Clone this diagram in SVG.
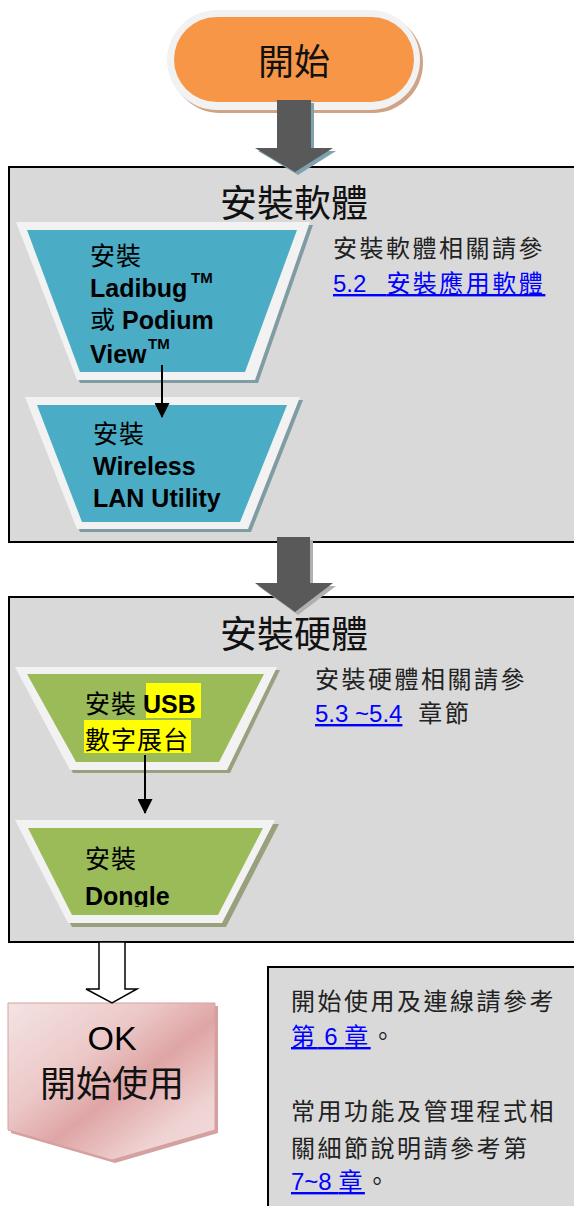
<svg xmlns="http://www.w3.org/2000/svg" width="574" height="1206" viewBox="0 0 574 1206">
<style>
.box{fill:#d9d9d9;stroke:#000;stroke-width:2}
.cjk{font-family:"Noto Sans CJK TC","Noto Sans",sans-serif;fill:#111}
.title{font-size:37px}
.note{font-size:24px;letter-spacing:2.5px;fill:#222;white-space:pre}
.link{fill:#0000ff;text-decoration:underline}
.lat{font-family:"Liberation Sans",Arial,sans-serif}
.nb{font-family:"Liberation Sans","Noto Sans CJK TC",sans-serif;font-weight:bold;font-size:25px;fill:#000}
.nc{font-family:"Noto Sans CJK TC",sans-serif;font-weight:normal;font-size:25px;letter-spacing:1px;fill:#000}
.tm{font-family:"Liberation Sans",sans-serif;font-weight:bold;font-size:15px;fill:#000}
.rim{fill:#f2f2f2}
.teal{fill:#4bacc6}
.green{fill:#9bbb59}
.tshadow{fill:#7f9ca3}
.gshadow{fill:#98a07e}
.thick{fill:#595959}
.conn{stroke:#000;stroke-width:2;fill:none}
</style>
<defs>
<marker id="ah" markerWidth="15" markerHeight="15" refX="14" refY="7.5" orient="auto" markerUnits="userSpaceOnUse" viewBox="0 0 15 15">
<path d="M0,0 L15,7.5 L0,15 z" fill="#000"/>
</marker>
<linearGradient id="pink" x1="0" y1="0" x2="1" y2="1">
<stop offset="0" stop-color="#f4e3e3"/>
<stop offset="0.35" stop-color="#ecc8c8"/>
<stop offset="0.55" stop-color="#dfa5a5"/>
<stop offset="0.8" stop-color="#efd3d3"/>
<stop offset="1" stop-color="#f2dcdc"/>
</linearGradient>
<clipPath id="dclip"><rect x="0" y="820" width="300" height="87"/></clipPath>
</defs>

<!-- containers -->
<g id="box-software">
<rect class="box" x="9" y="167" width="580" height="375"/>
<text class="cjk title" x="294" y="217" text-anchor="middle">安裝軟體</text>
<text class="cjk note" x="333" y="257">安裝軟體相關請參</text>
<text class="cjk note link" x="333" y="292"><tspan class="lat" letter-spacing="0">5.2   </tspan>安裝應用軟體</text>
</g>
<g id="box-hardware">
<rect class="box" x="9" y="597" width="580" height="345"/>
<text class="cjk title" x="294" y="648" text-anchor="middle">安裝硬體</text>
<text class="cjk note" x="315" y="688">安裝硬體相關請參</text>
<text class="cjk note" x="315" y="722"><tspan class="link lat" letter-spacing="0">5.3 ~5.4</tspan>  章節</text>
</g>
<g id="note-box">
<rect class="box" x="268" y="967" width="330" height="260"/>
<text class="cjk note" x="291" y="1010">開始使用及連線請參考</text>
<text class="cjk note" x="291" y="1045"><tspan class="link">第<tspan class="lat" letter-spacing="0"> 6 </tspan>章</tspan>。</text>
<text class="cjk note" x="291" y="1120">常用功能及管理程式相</text>
<text class="cjk note" x="291" y="1157">關細節說明請參考第</text>
<text class="cjk note" x="291" y="1190"><tspan class="link"><tspan class="lat" letter-spacing="0">7~8 </tspan>章</tspan>。</text>
</g>

<!-- start -->
<g id="start">
<rect x="170" y="13" width="253" height="100" rx="50" fill="#cfa385"/>
<rect x="167" y="10" width="253" height="100" rx="50" fill="#f2f2f2"/>
<rect x="174" y="17" width="240" height="85" rx="42.5" fill="#f79646"/>
<text class="cjk" x="294" y="75" font-size="36" text-anchor="middle">開始</text>
</g>

<!-- software steps -->
<g id="step-ladibug">
<polygon class="tshadow" points="19,225 313,225 258,383 80,383"/>
<polygon class="rim" points="16,222 310,222 255,380 77,380"/>
<polygon class="teal" points="27,230 297,230 245,372 80,372"/>
<text x="90" y="265" class="nc">安裝</text>
<text x="90" y="297" class="nb">Ladibug</text>
<text x="191" y="283" class="tm">TM</text>
<text x="90" y="329"><tspan class="nc">或</tspan><tspan class="nb" dx="6">Podium</tspan></text>
<text x="90" y="363" class="nb">View</text>
<text x="148" y="349" class="tm">TM</text>
</g>
<g id="step-wlan">
<polygon class="tshadow" points="28,400 303,400 251,532 80,532"/>
<polygon class="rim" points="25,397 300,397 248,529 77,529"/>
<polygon class="teal" points="37,405 287,405 240,522 82,522"/>
<text x="93" y="443" class="nc">安裝</text>
<text x="93" y="475" class="nb">Wireless</text>
<text x="93" y="507" class="nb">LAN Utility</text>
</g>

<!-- hardware steps -->
<g id="step-usb">
<polygon class="gshadow" points="18,670 280,670 230,773 73,773"/>
<polygon class="rim" points="15,667 277,667 227,770 70,770"/>
<polygon class="green" points="27,674 264,674 219,762 76,762"/>
<rect x="146" y="683" width="55" height="35" fill="#ffff00"/>
<rect x="84" y="720" width="107" height="33" fill="#ffff00"/>
<text x="85" y="713"><tspan class="nc">安裝</tspan><tspan class="nb" dx="6">USB</tspan></text>
<text x="85" y="749" class="nc" letter-spacing="0">數字展台</text>
</g>
<g id="step-dongle">
<polygon class="gshadow" points="19,824 279,824 226,927 72,927"/>
<polygon class="rim" points="15,820 275,820 222,923 68,923"/>
<polygon class="green" points="28,828 263,828 218,915 72,915"/>
<text x="85" y="868" class="nc">安裝</text>
<text x="85" y="905" class="nb" clip-path="url(#dclip)">Dongle</text>
</g>

<!-- finish -->
<g id="finish">
<polygon points="11,1006 218,1006 218,1133 115,1163 11,1133" fill="#c98a8a" opacity="0.8"/>
<polygon points="8,1003 215,1003 215,1130 112,1160 8,1130" fill="url(#pink)" stroke="#d9a0a0" stroke-width="1"/>
<text class="lat" x="112" y="1050" font-size="34" text-anchor="middle" fill="#000">OK</text>
<text class="cjk" x="112" y="1097" font-size="36" text-anchor="middle" fill="#000">開始使用</text>
</g>

<!-- connectors -->
<g id="connectors">
<polygon points="280,103 314,103 314,151 336,151 298,175 258,151 280,151" fill="#7fa3ad"/>
<polygon class="thick" points="277,100 311,100 311,148 333,148 295,172 255,148 277,148"/>
<polygon points="280,540 313,540 313,586 336,586 298,615 258,586 280,586" fill="#b0b0b0"/>
<polygon class="thick" points="277,537 310,537 310,583 333,583 295,612 255,583 277,583"/>
<line class="conn" x1="162" y1="365" x2="162" y2="417" marker-end="url(#ah)"/>
<line class="conn" x1="145" y1="755" x2="145" y2="813" marker-end="url(#ah)"/>
<polygon points="99,942 125,942 125,989 137,989 112,1003 86,989 99,989" fill="#fff" stroke="#000" stroke-width="1.5"/>
</g>
</svg>
